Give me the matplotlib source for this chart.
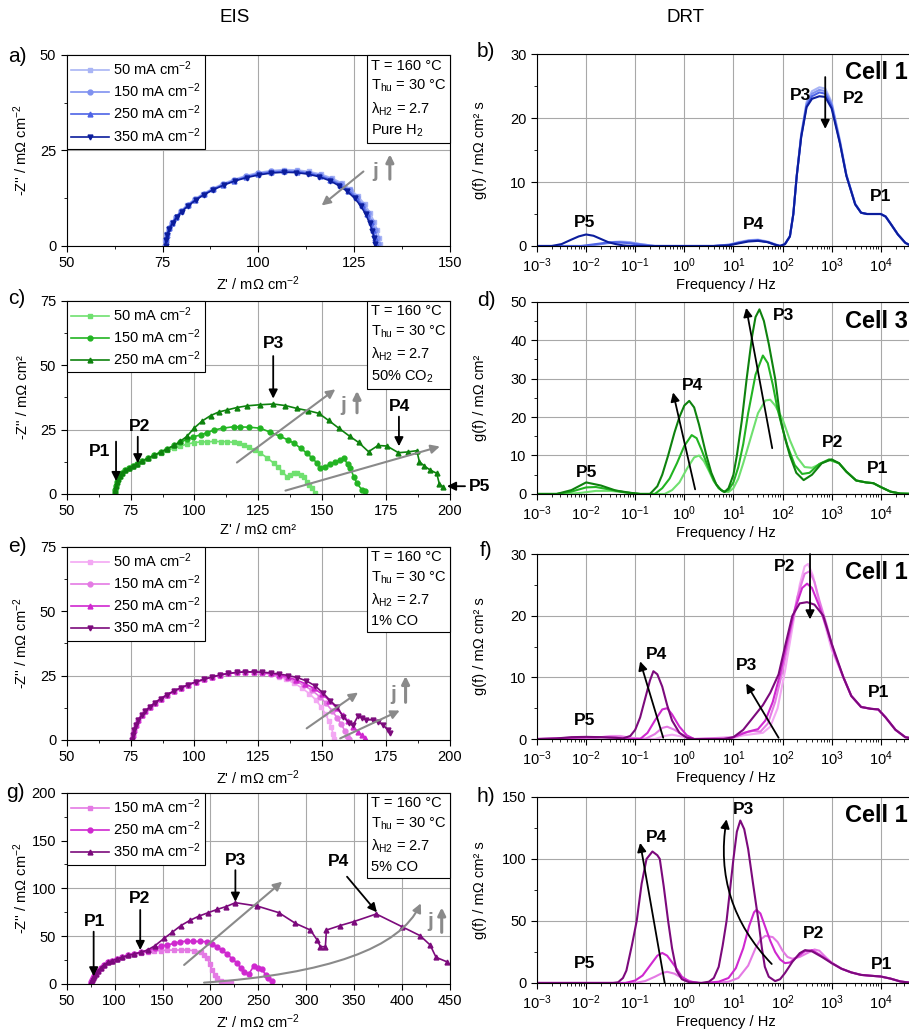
import numpy as np
import matplotlib
matplotlib.use("Agg")
import matplotlib.pyplot as plt
from matplotlib.offsetbox import AnchoredText
from matplotlib.ticker import MultipleLocator, LogLocator, NullFormatter

plt.rcParams['font.family'] = ['Liberation Sans', 'DejaVu Sans']
plt.rcParams['mathtext.default'] = 'regular'
plt.rcParams['font.size'] = 10

# ---------------- colours ----------------
BLUES = ['#a9b5f5', '#7f91f0', '#4d63e6', '#0b1d9c']
GREENS = ['#6fe06f', '#22b422', '#0e820e']
PINKS = ['#f3a8f3', '#e47ae4', '#cf28cf', '#7c0a7c']
GRAY = '#8a8a8a'

CUR4 = ['50 mA cm$^{-2}$', '150 mA cm$^{-2}$', '250 mA cm$^{-2}$', '350 mA cm$^{-2}$']

# ---------------- a) EIS pure H2 ----------------
a_z50 = [75.6, 75.7, 76.0, 76.6, 77.4, 78.5, 79.8, 81.5, 83.4, 85.6, 88.0, 90.7, 93.6, 96.7, 99.9, 103.2, 106.6, 110.0, 113.2, 116.3, 119.1, 121.7, 124.0, 126.0, 127.7, 129.1, 130.2, 131.0, 131.5, 131.8]
a_y50 = [0.0, 1.6, 3.1, 4.7, 6.2, 7.7, 9.2, 10.8, 12.3, 13.7, 15.0, 16.3, 17.4, 18.4, 19.2, 19.7, 20.0, 19.9, 19.5, 18.8, 17.8, 16.5, 14.9, 13.0, 11.0, 8.7, 6.4, 4.2, 2.2, 0.5]
a_z150 = [75.7, 75.8, 76.1, 76.7, 77.5, 78.6, 79.9, 81.6, 83.5, 85.7, 88.1, 90.8, 93.7, 96.8, 100.0, 103.3, 106.7, 110.0, 113.2, 116.2, 119.0, 121.5, 123.8, 125.7, 127.3, 128.7, 129.7, 130.5, 131.0, 131.2]
a_y150 = [0.0, 1.5, 3.1, 4.6, 6.1, 7.6, 9.1, 10.7, 12.2, 13.6, 14.9, 16.1, 17.2, 18.2, 19.0, 19.5, 19.7, 19.6, 19.2, 18.5, 17.5, 16.2, 14.7, 12.8, 10.8, 8.6, 6.3, 4.1, 2.1, 0.5]
a_z250 = [75.7, 75.8, 76.1, 76.7, 77.5, 78.6, 79.9, 81.6, 83.5, 85.7, 88.1, 90.8, 93.7, 96.8, 100.0, 103.3, 106.7, 110.0, 113.1, 116.1, 118.8, 121.3, 123.5, 125.4, 127.0, 128.3, 129.3, 130.0, 130.5, 130.7]
a_y250 = [0.0, 1.5, 3.0, 4.6, 6.1, 7.6, 9.1, 10.6, 12.1, 13.5, 14.8, 16.0, 17.1, 18.0, 18.8, 19.3, 19.5, 19.4, 19.0, 18.3, 17.3, 16.0, 14.5, 12.7, 10.7, 8.5, 6.2, 4.1, 2.1, 0.5]
a_z350 = [75.8, 75.9, 76.2, 76.8, 77.6, 78.7, 80.0, 81.7, 83.6, 85.8, 88.2, 90.9, 93.8, 96.9, 100.1, 103.4, 106.7, 109.9, 113.0, 115.9, 118.6, 121.0, 123.2, 125.1, 126.7, 128.0, 129.0, 129.7, 130.2, 130.4]
a_y350 = [0.0, 1.5, 3.0, 4.5, 6.0, 7.5, 9.0, 10.5, 12.0, 13.4, 14.7, 15.9, 17.0, 17.9, 18.6, 19.1, 19.3, 19.2, 18.8, 18.1, 17.1, 15.8, 14.3, 12.5, 10.5, 8.3, 6.0, 4.0, 2.0, 0.5]

# ---------------- c) EIS 50% CO2 ----------------
c_z50 = [68.8, 69.0, 69.3, 69.7, 70.2, 70.9, 71.8, 72.9, 74.2, 75.8, 77.6, 79.6, 81.8, 84.2, 86.7, 89.3, 92.0, 94.5, 97.0, 99.8, 102.5, 105.0, 107.5, 110.2, 112.8, 115.4, 117.5, 119.3, 121.5, 123.5, 125.8, 128.5, 131.0, 132.8, 134.3, 136.2, 137.5, 138.9, 140.2, 141.5, 142.8, 144.0, 145.0, 146.0, 147.3]
c_y50 = [0.0, 1.5, 3.0, 4.5, 5.8, 7.0, 8.1, 9.1, 10.0, 10.9, 11.8, 12.8, 13.9, 15.0, 16.0, 17.0, 17.8, 18.6, 19.3, 19.9, 20.2, 20.2, 20.4, 20.3, 20.3, 20.0, 19.6, 19.0, 18.1, 17.0, 15.8, 14.0, 11.9, 10.3, 8.7, 6.7, 7.3, 8.0, 8.0, 7.5, 6.7, 4.8, 3.5, 2.2, 0.3]
c_z150 = [68.8, 69.0, 69.3, 69.7, 70.2, 70.9, 71.8, 72.9, 74.2, 75.8, 77.6, 79.6, 81.8, 84.2, 86.7, 89.3, 92.0, 94.5, 97.0, 99.6, 102.4, 105.0, 107.6, 111.0, 115.4, 118.0, 121.5, 125.8, 129.5, 133.6, 136.5, 138.9, 141.5, 144.0, 146.0, 148.0, 149.3, 151.0, 153.2, 155.0, 157.0, 158.4, 160.0, 161.0, 162.3, 163.6, 165.5, 166.8]
c_y150 = [0.0, 1.5, 3.0, 4.5, 5.8, 7.0, 8.1, 9.1, 10.0, 10.9, 11.8, 12.8, 13.9, 15.0, 16.2, 17.5, 18.8, 20.0, 21.2, 22.2, 22.9, 23.8, 24.8, 25.5, 26.1, 26.0, 25.9, 25.5, 24.0, 22.3, 21.0, 19.7, 17.8, 15.8, 14.0, 11.9, 10.0, 10.6, 11.6, 12.4, 13.2, 13.8, 11.5, 10.0, 6.7, 4.1, 1.6, 1.3]
c_z250 = [68.8, 69.0, 69.3, 69.7, 70.2, 70.9, 71.8, 72.9, 74.2, 75.8, 77.6, 79.6, 81.8, 84.2, 86.7, 89.3, 92.0, 94.5, 97.0, 99.8, 103.0, 106.3, 109.5, 112.8, 116.5, 120.6, 125.5, 130.8, 135.5, 140.0, 144.5, 148.6, 152.5, 156.5, 160.7, 164.2, 168.1, 171.8, 175.3, 179.8, 183.5, 187.0, 188.0, 190.0, 192.2, 194.8, 195.8, 197.4]
c_y250 = [0.0, 1.5, 3.0, 4.5, 5.8, 7.0, 8.1, 9.1, 10.0, 10.9, 11.8, 12.8, 13.9, 15.0, 16.2, 17.5, 18.8, 20.5, 22.3, 25.5, 28.3, 30.4, 31.8, 32.6, 33.5, 34.2, 34.6, 34.9, 34.3, 33.2, 32.3, 31.3, 28.5, 25.5, 22.4, 20.0, 16.4, 18.8, 18.6, 16.0, 16.3, 16.8, 12.5, 10.8, 9.3, 8.0, 3.9, 2.6]

# ---------------- e) EIS 1% CO ----------------
e_z50 = [75.5, 75.8, 76.3, 77.0, 78.0, 79.3, 80.8, 82.6, 84.6, 86.8, 89.2, 91.8, 94.6, 97.5, 100.5, 103.6, 106.8, 110.0, 113.3, 116.6, 119.9, 123.2, 126.5, 129.8, 133.0, 136.0, 139.0, 142.0, 145.0, 147.5, 149.5, 151.2, 152.5, 153.5, 154.2, 154.6]
e_y50 = [0.0, 2.0, 4.0, 5.9, 7.8, 9.5, 11.2, 12.9, 14.5, 16.0, 17.5, 18.9, 20.2, 21.4, 22.5, 23.5, 24.4, 25.2, 25.8, 26.2, 26.4, 26.3, 26.0, 25.4, 24.6, 23.5, 22.0, 20.2, 17.9, 15.5, 12.9, 10.2, 7.5, 5.0, 2.5, 0.5]
e_z150 = [75.5, 75.8, 76.3, 77.0, 78.0, 79.3, 80.8, 82.6, 84.6, 86.8, 89.2, 91.8, 94.6, 97.5, 100.5, 103.6, 106.8, 110.0, 113.3, 116.6, 119.9, 123.2, 126.5, 129.8, 133.0, 136.2, 139.5, 142.8, 146.0, 149.0, 151.5, 153.8, 155.8, 157.5, 158.8, 159.8, 160.3]
e_y150 = [0.0, 2.0, 4.0, 5.9, 7.8, 9.5, 11.2, 12.9, 14.5, 16.0, 17.5, 18.9, 20.2, 21.4, 22.5, 23.5, 24.4, 25.2, 25.8, 26.2, 26.4, 26.4, 26.1, 25.6, 24.9, 24.0, 22.8, 21.2, 19.2, 16.8, 14.2, 11.4, 8.6, 6.0, 3.6, 1.6, 0.3]
e_z250 = [75.5, 75.8, 76.3, 77.0, 78.0, 79.3, 80.8, 82.6, 84.6, 86.8, 89.2, 91.8, 94.6, 97.5, 100.5, 103.6, 106.8, 110.0, 113.3, 116.6, 119.9, 123.2, 126.5, 129.8, 133.0, 136.4, 139.8, 143.2, 146.6, 149.8, 152.8, 155.6, 158.0, 160.2, 162.2, 164.0, 165.5, 166.6]
e_y250 = [0.0, 2.0, 4.0, 5.9, 7.8, 9.5, 11.2, 12.9, 14.5, 16.0, 17.5, 18.9, 20.2, 21.4, 22.5, 23.5, 24.4, 25.2, 25.8, 26.2, 26.4, 26.4, 26.2, 25.8, 25.2, 24.4, 23.3, 21.9, 20.1, 17.9, 15.3, 12.5, 9.7, 7.2, 5.0, 3.2, 1.8, 0.8]
e_z350 = [75.5, 75.8, 76.3, 77.0, 78.0, 79.3, 80.8, 82.6, 84.6, 86.8, 89.2, 91.8, 94.6, 97.5, 100.5, 103.6, 106.8, 110.0, 113.3, 116.6, 119.9, 123.2, 126.5, 129.8, 133.0, 136.6, 140.2, 143.8, 147.2, 150.4, 153.2, 155.6, 158.2, 160.5, 162.1, 164.0, 165.5, 167.3, 169.9, 172.0, 173.8, 175.7, 176.6]
e_y350 = [0.0, 2.0, 4.0, 5.9, 7.8, 9.5, 11.2, 12.9, 14.5, 16.0, 17.5, 18.9, 20.2, 21.4, 22.5, 23.5, 24.4, 25.2, 25.8, 26.2, 26.4, 26.4, 26.3, 26.0, 25.6, 25.0, 24.2, 22.9, 21.0, 18.1, 15.2, 12.9, 9.0, 6.5, 5.8, 9.3, 8.5, 7.8, 7.8, 7.0, 5.8, 3.9, 2.6]

# ---------------- g) EIS 5% CO ----------------
g_z150 = [75.0, 75.5, 76.3, 77.5, 78.8, 80.5, 82.8, 85.7, 89.0, 93.0, 97.5, 102.5, 108.0, 114.0, 120.4, 127.0, 134.3, 141.0, 148.0, 155.0, 162.0, 169.0, 175.9, 183.0, 189.8, 193.5, 196.7, 199.5, 201.9, 204.5, 207.0, 210.5, 214.0, 217.5, 221.0]
g_y150 = [0.0, 2.0, 4.0, 6.0, 8.0, 10.5, 13.5, 17.0, 20.0, 22.5, 24.5, 26.3, 28.0, 29.8, 31.5, 32.8, 33.8, 34.5, 35.0, 35.3, 35.5, 35.5, 35.5, 34.8, 33.8, 30.5, 26.8, 20.5, 14.6, 9.5, 5.9, 3.5, 2.4, 1.5, 0.7]
g_z250 = [75.0, 75.5, 76.3, 77.5, 78.8, 80.5, 82.8, 85.7, 89.0, 93.0, 97.5, 102.5, 108.0, 114.0, 120.4, 127.0, 134.3, 142.0, 148.0, 155.0, 162.0, 168.5, 175.7, 182.0, 189.0, 196.7, 202.0, 207.0, 212.0, 217.6, 222.5, 228.0, 231.5, 235.0, 240.0, 245.3, 250.0, 254.0, 257.5, 260.5, 264.4]
g_y250 = [0.0, 2.0, 4.0, 6.0, 8.0, 10.5, 13.5, 17.0, 20.0, 22.5, 24.5, 26.3, 28.0, 29.8, 31.5, 33.0, 35.0, 37.5, 39.5, 40.8, 42.5, 44.0, 45.0, 44.5, 44.5, 44.2, 42.0, 39.0, 35.5, 31.0, 26.5, 21.6, 17.0, 12.9, 10.5, 18.8, 16.5, 15.3, 9.4, 6.0, 3.5]
g_z350 = [75.0, 75.5, 76.3, 77.5, 78.8, 80.5, 82.8, 85.7, 89.0, 93.0, 97.5, 102.5, 108.0, 114.0, 120.4, 127.0, 134.3, 142.0, 151.6, 160.0, 169.0, 178.5, 188.0, 197.5, 207.0, 216.5, 226.0, 248.8, 271.3, 288.7, 304.3, 311.3, 314.7, 319.9, 321.0, 335.0, 349.4, 373.0, 399.7, 418.8, 429.2, 435.4, 446.5]
g_y350 = [0.0, 2.0, 4.0, 6.0, 8.0, 10.5, 13.5, 17.0, 20.0, 22.5, 24.5, 26.3, 28.0, 29.8, 31.5, 33.0, 35.5, 40.0, 47.7, 54.0, 61.0, 66.5, 71.0, 74.5, 78.0, 81.0, 85.0, 81.5, 74.6, 63.4, 56.4, 46.0, 39.0, 39.0, 56.4, 61.0, 65.2, 73.2, 60.0, 50.5, 40.8, 27.9, 23.3]

# ---------------- b) DRT pure H2 (log10 f, g) ----------------
b_lf50 = [-3.0, -2.0, -1.7, -1.5, -1.3, -1.1, -0.9, -0.6, 0.6, 0.9, 1.1, 1.3, 1.5, 1.7, 1.85, 1.95, 2.05, 2.15, 2.22, 2.29, 2.38, 2.49, 2.6, 2.75, 2.87, 3.0, 3.17, 3.3, 3.48, 3.6, 3.72, 3.85, 4.0, 4.1, 4.2, 4.35, 4.5, 4.6, 4.7]
b_g50 = [0, 0, 0.3, 0.6, 0.7, 0.6, 0.3, 0, 0, 0.2, 0.6, 0.9, 1.0, 0.7, 0.3, 0, 0.3, 1.5, 5.0, 11.0, 17.5, 22.5, 24.2, 24.8, 24.6, 22.5, 16.5, 11.2, 6.6, 5.2, 5.0, 5.0, 5.0, 4.6, 3.5, 1.8, 0.5, 0.1, 0]
b_lf150 = [-3.0, -2.0, -1.7, -1.5, -1.3, -1.1, -0.9, -0.6, 0.6, 0.9, 1.1, 1.3, 1.5, 1.7, 1.85, 1.95, 2.05, 2.15, 2.22, 2.29, 2.38, 2.49, 2.6, 2.75, 2.87, 3.0, 3.17, 3.3, 3.48, 3.6, 3.72, 3.85, 4.0, 4.1, 4.2, 4.35, 4.5, 4.6, 4.7]
b_g150 = [0, 0, 0.3, 0.5, 0.6, 0.5, 0.3, 0, 0, 0.2, 0.5, 0.8, 0.9, 0.6, 0.2, 0, 0.3, 1.5, 5.0, 11.0, 17.3, 22.2, 23.8, 24.4, 24.2, 22.2, 16.3, 11.1, 6.6, 5.2, 5.0, 5.0, 5.0, 4.6, 3.5, 1.8, 0.5, 0.1, 0]
b_lf250 = [-3.0, -2.1, -1.8, -1.6, -1.4, -1.2, -1.0, -0.7, 0.6, 0.9, 1.1, 1.3, 1.5, 1.7, 1.85, 1.95, 2.05, 2.15, 2.22, 2.29, 2.38, 2.49, 2.6, 2.75, 2.87, 3.0, 3.17, 3.3, 3.48, 3.6, 3.72, 3.85, 4.0, 4.1, 4.2, 4.35, 4.5, 4.6, 4.7]
b_g250 = [0, 0, 0.3, 0.5, 0.6, 0.5, 0.3, 0, 0, 0.1, 0.5, 0.8, 0.9, 0.6, 0.2, 0, 0.3, 1.5, 5.0, 11.0, 17.1, 21.9, 23.4, 24.0, 23.8, 21.9, 16.1, 11.0, 6.5, 5.2, 5.0, 5.0, 5.0, 4.6, 3.5, 1.8, 0.5, 0.1, 0]
b_lf350 = [-3.0, -2.7, -2.5, -2.3, -2.15, -2.0, -1.85, -1.7, -1.55, -1.4, -1.25, -1.1, 0.6, 0.9, 1.1, 1.3, 1.5, 1.7, 1.85, 1.95, 2.05, 2.15, 2.22, 2.29, 2.38, 2.49, 2.6, 2.75, 2.87, 3.0, 3.17, 3.3, 3.48, 3.6, 3.72, 3.85, 4.0, 4.1, 4.2, 4.35, 4.5, 4.6, 4.7]
b_g350 = [0, 0, 0.3, 1.0, 1.5, 1.8, 1.6, 1.1, 0.6, 0.3, 0.1, 0, 0, 0.1, 0.4, 0.7, 0.8, 0.6, 0.2, 0, 0.3, 1.5, 5.0, 11.0, 17.0, 21.7, 23.0, 23.4, 23.3, 21.5, 16.0, 11.0, 6.5, 5.2, 5.0, 5.0, 5.0, 4.6, 3.5, 1.8, 0.5, 0.1, 0]

# ---------------- d) DRT 50% CO2 ----------------
d_lf50 = [-3.0, -2.4, -2.1, -1.8, -1.5, -1.2, -1.0, -0.4, -0.25, -0.1, 0.05, 0.2, 0.3, 0.4, 0.5, 0.6, 0.7, 0.8, 0.9, 1.0, 1.1, 1.2, 1.35, 1.5, 1.65, 1.75, 1.85, 2.0, 2.15, 2.3, 2.45, 2.6, 2.8, 2.95, 3.15, 3.3, 3.5, 3.7, 3.85, 4.0, 4.2, 4.4, 4.7]
d_g50 = [0, 0, 0.3, 0.8, 0.8, 0.4, 0, 0, 1.0, 3.0, 6.5, 9.5, 10.0, 8.5, 6.0, 3.3, 1.5, 0.6, 0.5, 1.5, 4.0, 8.0, 14.5, 21.0, 24.3, 24.5, 23.0, 19.5, 14.0, 9.5, 7.0, 6.8, 8.0, 8.8, 8.0, 5.8, 3.5, 3.0, 2.8, 1.8, 0.6, 0.1, 0]
d_lf150 = [-3.0, -2.6, -2.3, -2.0, -1.8, -1.5, -1.2, -0.9, -0.6, -0.45, -0.3, -0.15, 0.0, 0.15, 0.25, 0.35, 0.5, 0.6, 0.7, 0.8, 0.9, 1.0, 1.1, 1.2, 1.3, 1.45, 1.6, 1.7, 1.8, 1.9, 2.0, 2.1, 2.25, 2.4, 2.55, 2.75, 2.95, 3.15, 3.3, 3.5, 3.7, 3.85, 4.0, 4.2, 4.4, 4.7]
d_g150 = [0, 0, 0.6, 1.7, 1.8, 1.1, 0.4, 0, 0, 1.5, 4.0, 8.0, 12.5, 15.3, 14.5, 11.5, 6.5, 3.5, 1.5, 0.6, 1.0, 3.0, 7.0, 13.0, 21.0, 31.0, 36.0, 34.0, 28.5, 22.0, 17.0, 12.5, 7.5, 5.2, 5.5, 7.8, 9.0, 8.0, 5.8, 3.5, 3.0, 2.8, 1.8, 0.6, 0.1, 0]
d_lf250 = [-3.0, -2.6, -2.3, -2.0, -1.7, -1.4, -1.1, -0.9, -0.7, -0.55, -0.45, -0.33, -0.2, -0.1, 0.0, 0.1, 0.2, 0.3, 0.45, 0.55, 0.65, 0.75, 0.82, 0.9, 1.0, 1.07, 1.17, 1.27, 1.38, 1.45, 1.53, 1.62, 1.72, 1.85, 1.95, 2.05, 2.15, 2.28, 2.43, 2.6, 2.8, 3.0, 3.15, 3.3, 3.5, 3.7, 3.85, 4.0, 4.2, 4.4, 4.7]
d_g250 = [0, 0, 1.0, 3.0, 2.2, 0.9, 0.3, 0, 0, 2.0, 5.0, 10.0, 16.0, 20.0, 23.0, 24.2, 22.5, 18.0, 10.0, 5.5, 2.5, 1.0, 0.5, 1.5, 5.0, 10.0, 19.0, 30.0, 41.0, 46.0, 48.0, 45.0, 39.0, 30.0, 20.0, 14.5, 10.0, 5.5, 3.6, 5.0, 8.0, 9.0, 8.0, 5.8, 3.5, 3.0, 2.8, 1.8, 0.6, 0.1, 0]

# ---------------- f) DRT 1% CO ----------------
f_lf50 = [-3.0, -2.0, -1.7, -1.5, -1.3, -1.1, -0.6, -0.4, -0.25, -0.05, 0.2, 1.0, 1.2, 1.4, 1.6, 1.75, 1.9, 2.05, 2.2, 2.35, 2.45, 2.52, 2.62, 2.72, 2.85, 3.0, 3.24, 3.4, 3.6, 3.8, 3.95, 4.1, 4.3, 4.5, 4.7]
f_g50 = [0, 0, 0.3, 0.5, 0.5, 0.2, 0, 0.5, 0.7, 0.4, 0, 0.2, 0.6, 0.8, 1.0, 2.0, 5.0, 11.0, 18.0, 25.0, 28.0, 28.4, 26.5, 23.0, 19.0, 14.5, 10.0, 7.0, 5.2, 4.9, 4.8, 3.5, 1.5, 0.3, 0]
f_lf150 = [-3.0, -2.0, -1.7, -1.5, -1.3, -1.1, -0.8, -0.6, -0.45, -0.35, -0.2, 0.0, 0.2, 1.0, 1.2, 1.4, 1.55, 1.7, 1.85, 2.0, 2.15, 2.3, 2.45, 2.55, 2.65, 2.75, 2.9, 3.05, 3.24, 3.4, 3.6, 3.8, 3.95, 4.1, 4.3, 4.5, 4.7]
f_g150 = [0, 0, 0.3, 0.4, 0.4, 0.2, 0, 0.8, 1.8, 2.0, 1.5, 0.5, 0, 0.3, 1.0, 1.3, 1.2, 2.5, 6.0, 11.0, 17.0, 23.0, 26.8, 27.2, 25.5, 22.5, 18.5, 14.0, 10.0, 7.0, 5.2, 4.9, 4.8, 3.5, 1.5, 0.3, 0]
f_lf250 = [-3.0, -2.3, -2.0, -1.7, -1.4, -1.1, -0.9, -0.75, -0.6, -0.45, -0.35, -0.25, -0.1, 0.05, 0.2, 0.9, 1.1, 1.3, 1.5, 1.65, 1.8, 1.95, 2.1, 2.25, 2.4, 2.5, 2.6, 2.75, 2.9, 3.05, 3.24, 3.4, 3.6, 3.8, 3.95, 4.1, 4.3, 4.5, 4.7]
f_g250 = [0, 0.2, 0.3, 0.3, 0.2, 0, 0, 1.0, 3.0, 4.8, 5.0, 4.0, 2.0, 0.6, 0, 0, 0.6, 1.2, 1.6, 3.0, 6.0, 10.5, 16.0, 21.0, 24.5, 25.2, 24.5, 21.5, 18.0, 14.0, 10.0, 7.0, 5.2, 4.9, 4.8, 3.5, 1.5, 0.3, 0]
f_lf350 = [-3.0, -2.6, -2.3, -2.0, -1.7, -1.4, -1.25, -1.1, -1.0, -0.9, -0.8, -0.7, -0.63, -0.55, -0.45, -0.35, -0.25, -0.1, 0.05, 0.2, 0.8, 1.0, 1.2, 1.4, 1.6, 1.75, 1.92, 2.05, 2.2, 2.35, 2.5, 2.65, 2.83, 3.0, 3.24, 3.4, 3.6, 3.8, 3.95, 4.1, 4.3, 4.5, 4.7]
f_g350 = [0, 0.1, 0.3, 0.35, 0.3, 0.2, 0.1, 0.5, 1.5, 3.5, 6.5, 9.5, 11.0, 10.5, 8.5, 5.5, 3.0, 1.0, 0.2, 0, 0, 0.3, 1.5, 3.5, 5.5, 7.5, 10.5, 15.0, 20.0, 22.0, 22.2, 21.8, 20.0, 15.5, 10.0, 7.0, 5.2, 4.9, 4.8, 3.5, 1.5, 0.3, 0]

# ---------------- h) DRT 5% CO ----------------
h_lf150 = [-3.0, -1.0, -0.8, -0.6, -0.45, -0.35, -0.2, -0.05, 0.15, 0.3, 0.6, 0.9, 1.1, 1.3, 1.45, 1.55, 1.65, 1.8, 1.9, 2.0, 2.1, 2.2, 2.35, 2.5, 2.65, 2.75, 2.9, 3.0, 3.2, 3.4, 3.6, 3.8, 4.0, 4.2, 4.4, 4.6, 4.7]
h_g150 = [0, 0, 1.5, 5.0, 8.0, 9.0, 7.5, 4.0, 1.0, 0, 0, 1.0, 4.0, 14.0, 28.0, 35.0, 38.0, 37.0, 33.0, 26.0, 21.0, 19.5, 21.0, 24.0, 27.0, 26.0, 20.0, 16.5, 11.5, 8.5, 6.5, 5.8, 5.2, 3.5, 1.2, 0.2, 0]
h_lf250 = [-3.0, -1.2, -1.0, -0.85, -0.7, -0.55, -0.45, -0.35, -0.2, -0.05, 0.1, 0.3, 0.4, 0.7, 0.9, 1.05, 1.2, 1.32, 1.42, 1.47, 1.55, 1.65, 1.75, 1.85, 1.95, 2.05, 2.15, 2.3, 2.45, 2.6, 2.75, 2.9, 3.0, 3.2, 3.4, 3.6, 3.8, 4.0, 4.2, 4.4, 4.6, 4.7]
h_g250 = [0, 0, 2.0, 6.0, 14.0, 22.0, 24.2, 22.0, 14.0, 5.0, 1.2, 0, 0, 1.0, 4.0, 12.0, 28.0, 46.0, 57.0, 59.0, 56.0, 45.0, 34.0, 25.0, 19.0, 16.0, 16.5, 21.0, 25.5, 26.5, 23.0, 19.0, 16.0, 11.5, 8.5, 6.5, 5.8, 5.2, 3.5, 1.2, 0.2, 0]
h_lf350 = [-3.0, -1.45, -1.35, -1.25, -1.18, -1.07, -0.97, -0.87, -0.77, -0.65, -0.55, -0.5, -0.42, -0.33, -0.25, -0.16, -0.05, 0.1, 0.35, 0.5, 0.6, 0.7, 0.78, 0.86, 0.93, 1.0, 1.07, 1.14, 1.22, 1.3, 1.4, 1.51, 1.58, 1.64, 1.72, 1.85, 1.95, 2.05, 2.2, 2.35, 2.46, 2.6, 2.8, 3.0, 3.2, 3.4, 3.6, 3.8, 4.0, 4.2, 4.4, 4.6, 4.7]
h_g350 = [0, 0, 0.5, 4.0, 10.0, 30.0, 50.0, 80.0, 100.0, 106.0, 103.0, 100.0, 78.0, 50.0, 28.0, 10.0, 3.0, 0.5, 0, 1.0, 4.0, 13.0, 30.0, 50.0, 75.0, 100.0, 122.0, 131.0, 124.0, 108.0, 80.0, 50.0, 28.0, 13.0, 5.0, 1.5, 3.0, 8.0, 17.0, 24.0, 26.5, 25.5, 21.0, 16.0, 11.5, 8.5, 6.5, 5.8, 5.2, 3.5, 1.2, 0.2, 0]

INFO = 'T = 160 °C\nT$_{hu}$ = 30 °C\nλ$_{H2}$ = 2.7\n'


def eis_panel(ax, series, colors, markers, labels, xlim, xstep, ylim, ystep, xlabel, ylabel, gas):
    for (z, y), c, m, lab in zip(series, colors, markers, labels):
        ax.plot(z, y, color=c, marker=m, ms=3.5, lw=1.2, label=lab)
    ax.set_xlim(xlim)
    ax.set_ylim(ylim)
    ax.xaxis.set_major_locator(MultipleLocator(xstep))
    ax.xaxis.set_minor_locator(MultipleLocator(xstep / 2))
    ax.yaxis.set_major_locator(MultipleLocator(ystep))
    ax.yaxis.set_minor_locator(MultipleLocator(ystep / 2))
    ax.grid(True, which='major', color='#a8a8a8', lw=0.8)
    ax.set_axisbelow(True)
    ax.tick_params(which='major', length=4, labelsize=10.5)
    ax.tick_params(which='minor', length=2.5)
    ax.set_xlabel(xlabel, fontsize=10.5, labelpad=3)
    ax.set_ylabel(ylabel, fontsize=10.5)
    ax.yaxis.set_label_coords(-0.097, 0.5)
    leg = ax.legend(loc='upper left', borderaxespad=0, fancybox=False, edgecolor='black',
                    framealpha=1, handlelength=2.6, labelspacing=0.25, borderpad=0.3,
                    handletextpad=0.3, fontsize=10.5)
    leg.get_frame().set_linewidth(0.8)
    at = AnchoredText(INFO + gas, loc='upper right', borderpad=0, pad=0.25,
                      prop=dict(size=10.5, linespacing=1.45), frameon=True)
    at.patch.set_boxstyle('square,pad=0')
    at.patch.set_linewidth(0.8)
    ax.add_artist(at)


def drt_panel(ax, series, colors, ylim, ystep, ylabel):
    for (lf, g), c in zip(series, colors):
        ax.plot(np.power(10.0, lf), g, color=c, lw=1.5)
    ax.set_xscale('log')
    ax.set_xlim(1e-3, 10 ** 4.7)
    ax.set_ylim(ylim)
    ax.xaxis.set_major_locator(LogLocator(base=10, numticks=12))
    ax.xaxis.set_minor_locator(LogLocator(base=10, subs=np.arange(2, 10) * 1.0, numticks=12))
    ax.xaxis.set_minor_formatter(NullFormatter())
    ax.yaxis.set_major_locator(MultipleLocator(ystep))
    ax.yaxis.set_minor_locator(MultipleLocator(ystep / 2))
    ax.grid(True, which='major', color='#a8a8a8', lw=0.8)
    ax.set_axisbelow(True)
    ax.tick_params(which='major', length=4, labelsize=10.5)
    ax.tick_params(which='minor', length=2.5)
    ax.set_xlabel('Frequency / Hz', fontsize=10.5, labelpad=2)
    ax.set_ylabel(ylabel, fontsize=10.5)
    ax.yaxis.set_label_coords(-0.132, 0.5)


def lab(ax, txt, x, y, size=12.5, **kw):
    ax.text(x, y, txt, fontsize=size, fontweight='bold', ha='center', va='center', **kw)


def arr(ax, p0, p1, color='black', lw=1.3, conn='arc3,rad=0.0', ms=13):
    ax.annotate('', xy=p1, xytext=p0,
                arrowprops=dict(arrowstyle='-|>', color=color, lw=lw, mutation_scale=ms,
                                shrinkA=0, shrinkB=0, connectionstyle=conn))


def jmark(ax, xj, yj, xa, ya0, ya1):
    ax.text(xj, yj, 'j', fontsize=15, fontweight='bold', color=GRAY, ha='center', va='center')
    arr(ax, (xa, ya0), (xa, ya1), color=GRAY, lw=2.2, ms=11)


def L(v):
    return 10.0 ** v


fig = plt.figure(figsize=(9.09, 10.31), dpi=100)

ax_a = fig.add_axes([0.0734, 0.7614, 0.4217, 0.1853])
ax_c = fig.add_axes([0.0734, 0.5209, 0.4217, 0.1875])
ax_e = fig.add_axes([0.0734, 0.2823, 0.4217, 0.1875])
ax_g = fig.add_axes([0.0734, 0.0456, 0.4217, 0.1855])
ax_b = fig.add_axes([0.5908, 0.7614, 0.4159, 0.1862])
ax_d = fig.add_axes([0.5908, 0.5209, 0.4159, 0.1865])
ax_f = fig.add_axes([0.5908, 0.2832, 0.4159, 0.1794])
ax_h = fig.add_axes([0.5908, 0.0466, 0.4159, 0.1804])

ZL_m2 = "Z' / mΩ cm$^{-2}$"
YL_m2 = "-Z'' / mΩ cm$^{-2}$"

# a)
eis_panel(ax_a, [(a_z50, a_y50), (a_z150, a_y150), (a_z250, a_y250), (a_z350, a_y350)],
          BLUES, ['s', 'o', '^', 'v'], CUR4, (50, 150), 25, (0, 50), 25,
          ZL_m2, YL_m2, 'Pure H$_2$')
arr(ax_a, (127.4, 19.5), (116.5, 10.6), color=GRAY, lw=1.5)
jmark(ax_a, 130.4, 19.5, 134.3, 17.5, 24.0)

# c)
eis_panel(ax_c, [(c_z50, c_y50), (c_z150, c_y150), (c_z250, c_y250)],
          GREENS, ['s', 'o', '^'], CUR4[:3], (50, 200), 25, (0, 75), 25,
          "Z' / mΩ cm²", "-Z'' / mΩ cm²", '50% CO$_2$')
lab(ax_c, 'P1', 62.7, 16.4)
arr(ax_c, (69.3, 20.3), (69.3, 5.0))
lab(ax_c, 'P2', 78.4, 26.0)
arr(ax_c, (77.8, 22.2), (77.8, 11.9))
lab(ax_c, 'P3', 130.8, 58.5)
arr(ax_c, (130.8, 53.5), (130.8, 37.0))
lab(ax_c, 'P4', 180.2, 33.9)
arr(ax_c, (180.0, 30.0), (180.0, 18.5))
ax_c.annotate('P5', xy=(198.8, 3.0), xytext=(207.5, 3.0), ha='left', va='center',
              fontsize=12.5, fontweight='bold', annotation_clip=False,
              arrowprops=dict(arrowstyle='-|>', color='black', lw=1.3, mutation_scale=13,
                              shrinkA=1, shrinkB=0))
arr(ax_c, (116.6, 12.2), (155.1, 40.6), color=GRAY, lw=1.5)
arr(ax_c, (135.6, 1.3), (196.0, 18.4), color=GRAY, lw=1.5)
jmark(ax_c, 158.4, 34.5, 163.6, 31.5, 40.0)

# e)
eis_panel(ax_e, [(e_z50, e_y50), (e_z150, e_y150), (e_z250, e_y250), (e_z350, e_y350)],
          PINKS, ['s', 'o', '^', 'v'], CUR4, (50, 200), 25, (0, 75), 25,
          ZL_m2, YL_m2, '1% CO')
arr(ax_e, (143.9, 4.5), (164.0, 18.4), color=GRAY, lw=1.5)
arr(ax_e, (157.0, 0.6), (180.3, 11.4), color=GRAY, lw=1.5)
jmark(ax_e, 177.7, 17.5, 182.6, 14.6, 24.8)

# g)
eis_panel(ax_g, [(g_z150, g_y150), (g_z250, g_y250), (g_z350, g_y350)],
          PINKS[1:], ['s', 'o', '^'], CUR4[1:], (50, 450), 50, (0, 200), 50,
          ZL_m2, YL_m2, '5% CO')
lab(ax_g, 'P1', 78.8, 65.2)
arr(ax_g, (78.1, 54.7), (78.1, 8.0))
lab(ax_g, 'P2', 125.6, 89.5)
arr(ax_g, (126.7, 77.4), (126.7, 35.5))
lab(ax_g, 'P3', 226.2, 129.6)
arr(ax_g, (226.0, 119.0), (226.0, 86.0))
lab(ax_g, 'P4', 333.8, 127.9)
arr(ax_g, (342.5, 112.2), (373.7, 75.0))
arr(ax_g, (172.5, 19.9), (274.8, 107.0), color=GRAY, lw=1.5)
arr(ax_g, (193.3, 1.4), (419.5, 84.3), color=GRAY, lw=1.5, conn='angle3,angleA=4,angleB=65')
jmark(ax_g, 429.2, 65.2, 441.3, 54.0, 80.0)

# b)
drt_panel(ax_b, [(b_lf50, b_g50), (b_lf150, b_g150), (b_lf250, b_g250), (b_lf350, b_g350)],
          BLUES, (0, 30), 10, 'g(f) / mΩ cm² s')
lab(ax_b, 'P5', L(-2.03), 3.6)
lab(ax_b, 'P4', L(1.41), 3.3)
lab(ax_b, 'P3', L(2.36), 23.5)
lab(ax_b, 'P2', L(3.44), 23.1)
lab(ax_b, 'P1', L(4.0), 7.7)
arr(ax_b, (L(2.87), 26.4), (L(2.87), 18.3))
ax_b.text(L(3.27), 27.1, 'Cell 1', fontsize=17, fontweight='bold', ha='left', va='center')

# d)
drt_panel(ax_d, [(d_lf50, d_g50), (d_lf150, d_g150), (d_lf250, d_g250)],
          GREENS, (0, 50), 10, 'g(f) / mΩ cm²')
lab(ax_d, 'P5', L(-2.0), 5.5)
lab(ax_d, 'P4', L(0.17), 28.1)
arr(ax_d, (L(0.22), 1.2), (L(-0.23), 26.4))
lab(ax_d, 'P3', L(2.02), 46.3)
arr(ax_d, (L(1.79), 11.9), (L(1.26), 48.4))
lab(ax_d, 'P2', L(3.02), 13.4)
lab(ax_d, 'P1', L(3.94), 6.5)
ax_d.text(L(3.27), 44.8, 'Cell 3', fontsize=17, fontweight='bold', ha='left', va='center')

# f)
drt_panel(ax_f, [(f_lf50, f_g50), (f_lf150, f_g150), (f_lf250, f_g250), (f_lf350, f_g350)],
          PINKS, (0, 30), 10, 'g(f) / mΩ cm² s')
lab(ax_f, 'P5', L(-2.03), 3.0)
lab(ax_f, 'P4', L(-0.56), 13.7)
arr(ax_f, (L(-0.43), 0.2), (L(-0.9), 12.6))
lab(ax_f, 'P3', L(1.27), 11.9)
arr(ax_f, (L(1.92), 0.2), (L(1.26), 9.0))
lab(ax_f, 'P2', L(2.05), 28.0)
arr(ax_f, (L(2.56), 30.0), (L(2.56), 19.4))
lab(ax_f, 'P1', L(3.95), 7.5)
ax_f.text(L(3.27), 27.0, 'Cell 1', fontsize=17, fontweight='bold', ha='left', va='center')

# h)
drt_panel(ax_h, [(h_lf150, h_g150), (h_lf250, h_g250), (h_lf350, h_g350)],
          PINKS[1:], (0, 150), 50, 'g(f) / mΩ cm² s')
lab(ax_h, 'P5', L(-2.03), 16.0)
lab(ax_h, 'P4', L(-0.56), 117.0)
arr(ax_h, (L(-0.4), 0.0), (L(-0.9), 113.0))
lab(ax_h, 'P3', L(1.2), 140.0)
arr(ax_h, (L(1.78), 15.3), (L(0.86), 132.0), conn='arc3,rad=-0.25')
lab(ax_h, 'P2', L(2.63), 39.5)
lab(ax_h, 'P1', L(4.02), 14.8)
ax_h.text(L(3.27), 135.0, 'Cell 1', fontsize=17, fontweight='bold', ha='left', va='center')

# column headers and panel letters
W, H = 909.0, 1031.0
fig.text(235 / W, 1 - 17 / H, 'EIS', fontsize=13.5, ha='center', va='center')
fig.text(685 / W, 1 - 17 / H, 'DRT', fontsize=13.5, ha='center', va='center')
for letter, px, py in [('a)', 8, 56), ('b)', 477, 52), ('c)', 8, 298), ('d)', 477, 300),
                       ('e)', 8, 547), ('f)', 480, 551), ('g)', 6, 792), ('h)', 477, 797)]:
    fig.text(px / W, 1 - py / H, letter, fontsize=15, ha='left', va='center')

fig.savefig('out.png', dpi=100)
